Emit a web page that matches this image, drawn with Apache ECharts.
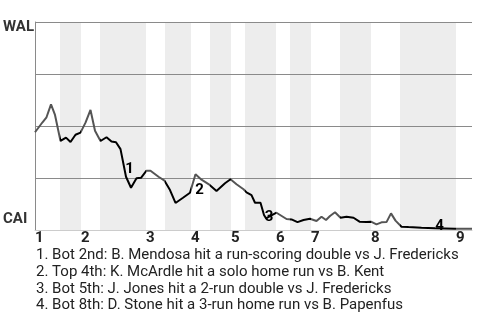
<!DOCTYPE html>
<html>
<head>
<meta charset="utf-8">
<script src="https://cdn.jsdelivr.net/npm/echarts@6/dist/echarts.min.js"></script>
<style>
html,body{margin:0;padding:0;background:#fff;}
#chart{width:480px;height:320px;}
</style>
</head>
<body>
<div id="chart"></div>
<script>
// ---- data (x = play progress, y = WAL win probability) ----
const wpX = [0, 1.5, 2.3, 3.2, 4.0, 5.1, 6.2, 7.1, 8.1, 9.1, 10.1, 11.1, 12.0, 13.1, 14.3, 15.3, 16.2, 17.1, 18.2, 19.2,
  20.3, 21.2, 22.3, 23.1, 24.7, 25.9, 27.0, 28.1, 29.6, 31.0, 32.1, 33.3, 34.7, 36.3, 38.0, 39.1, 40.3, 41.7, 42.3, 43.3,
  44.0, 45.1, 45.8, 46.2, 48.3, 50.3, 51.3, 52.5, 53.7, 55.0, 56.3, 57.3, 58.2, 59.0, 60.0, 61.1, 62.3, 63.7, 64.9, 65.3,
  66.3, 67.2, 68.3, 69.3, 70.3, 71.2, 72.1, 73.3, 74.7, 77.3, 80.0, 84.0, 87.4];
const wpY = [0.47, 0.518, 0.542, 0.604, 0.553, 0.428, 0.444, 0.423, 0.458, 0.468, 0.516, 0.577, 0.477, 0.428, 0.446, 0.425, 0.422, 0.389, 0.256, 0.203,
  0.249, 0.251, 0.285, 0.285, 0.256, 0.237, 0.192, 0.130, 0.155, 0.179, 0.268, 0.242, 0.221, 0.188, 0.225, 0.244, 0.220, 0.196, 0.181, 0.168,
  0.131, 0.131, 0.072, 0.056, 0.083, 0.053, 0.051, 0.038, 0.048, 0.054, 0.043, 0.064, 0.048, 0.067, 0.085, 0.059, 0.064, 0.059, 0.040, 0.035,
  0.038, 0.040, 0.027, 0.037, 0.038, 0.080, 0.045, 0.016, 0.014, 0.011, 0.008, 0.006, 0.006];
const inningStarts = [0, 9.2, 22.2, 31.2, 39.2, 48.2, 55.2, 67.2, 84.2];
const inningLabels = ['1', '2', '3', '4', '5', '6', '7', '8', '9'];
const bottomStarts = [5, 13, 26, 35, 42, 51, 61, 73];
const bottomEnds = [9.2, 22.2, 31.2, 39.2, 48.2, 55.2, 67.2, 84.2];
const teamTop = 'WAL';
const teamBottom = 'CAI';
const eventIdx = [18, 30, 43, 70];
const eventNames = ['1', '2', '3', '4'];
const footnotes = [
  '1. Bot 2nd: B. Mendosa hit a run-scoring double vs J. Fredericks',
  '2. Top 4th: K. McArdle hit a solo home run vs B. Kent',
  '3. Bot 5th: J. Jones hit a 2-run double vs J. Fredericks',
  '4. Bot 8th: D. Stone hit a 3-run home run vs B. Papenfus'
];

// ---- styling ----
const eventLabelOffsets = [[3.5, -8], [4, 16], [3, -1.5], [4.5, -2.5]];
const FONT = 'Roboto, "Noto Sans", sans-serif';

const chart = echarts.init(document.getElementById('chart'), null, {renderer: 'canvas'});
const linePts = wpX.map((x, i) => [x, wpY[i]]);
const bands = bottomStarts.map((s, i) => [{xAxis: s}, {xAxis: bottomEnds[i]}]);
const pieces = [];
bottomStarts.forEach((s, i) => pieces.push({gt: s, lte: bottomEnds[i], color: '#000'}));

const option = {
  animation: false,
  grid: {left: 35, right: 8, top: 22, bottom: 90},
  xAxis: {
    type: 'value', min: 0, max: 87.4, z: 2,
    splitLine: {show: false},
    axisTick: {show: false},
    axisLine: {show: true, lineStyle: {color: '#cccccc', width: 1}},
    axisLabel: {
      customValues: inningStarts,
      align: 'left', margin: 1,
      fontFamily: FONT, fontWeight: 'bold', fontSize: 15, color: '#222',
      formatter: function (v) {
        const k = inningStarts.findIndex(s => Math.abs(s - v) < 1e-6);
        return k >= 0 ? inningLabels[k] : '';
      }
    }
  },
  yAxis: {
    type: 'value', min: 0, max: 1, interval: 0.25, z: 2,
    axisLine: {show: true, lineStyle: {color: '#8a8a8a', width: 1}},
    axisTick: {show: false},
    axisLabel: {show: false},
    splitLine: {show: true, lineStyle: {color: '#8a8a8a', width: 1}}
  },
  visualMap: {
    show: false, type: 'piecewise', dimension: 0, seriesIndex: 1,
    pieces: pieces, outOfRange: {color: '#555'}
  },
  title: {
    text: footnotes.join('\n'),
    left: 31, top: 242, padding: 5,
    textStyle: {fontFamily: FONT, fontWeight: 'normal', fontSize: 15, color: '#222', lineHeight: 16.7}
  },
  graphic: [
    {type: 'text', left: 3, top: 20, style: {text: teamTop, fontFamily: FONT, fontWeight: 'bold', fontSize: 15, fill: '#333'}},
    {type: 'text', left: 3, top: 212, style: {text: teamBottom, fontFamily: FONT, fontWeight: 'bold', fontSize: 15, fill: '#333'}}
  ],
  series: [
    {
      type: 'line', data: [], z: 1, silent: true,
      markArea: {silent: true, itemStyle: {color: '#ededed'}, data: bands}
    },
    {
      type: 'line', data: linePts, z: 3, symbol: 'none', showSymbol: false,
      lineStyle: {width: 2}
    },
    {
      type: 'custom', z: 5, silent: true,
      data: eventIdx.map(i => [wpX[i], wpY[i]]),
      renderItem: function (params, api) {
        const p = api.coord([api.value(0), api.value(1)]);
        const o = eventLabelOffsets[params.dataIndex];
        return {
          type: 'text', x: p[0] + o[0], y: p[1] + o[1],
          style: {
            text: eventNames[params.dataIndex],
            font: 'bold 15px Roboto, sans-serif',
            fill: '#000', opacity: 1, align: 'center', verticalAlign: 'middle'
          }
        };
      }
    }
  ]
};
chart.setOption(option);
</script>
</body>
</html>
